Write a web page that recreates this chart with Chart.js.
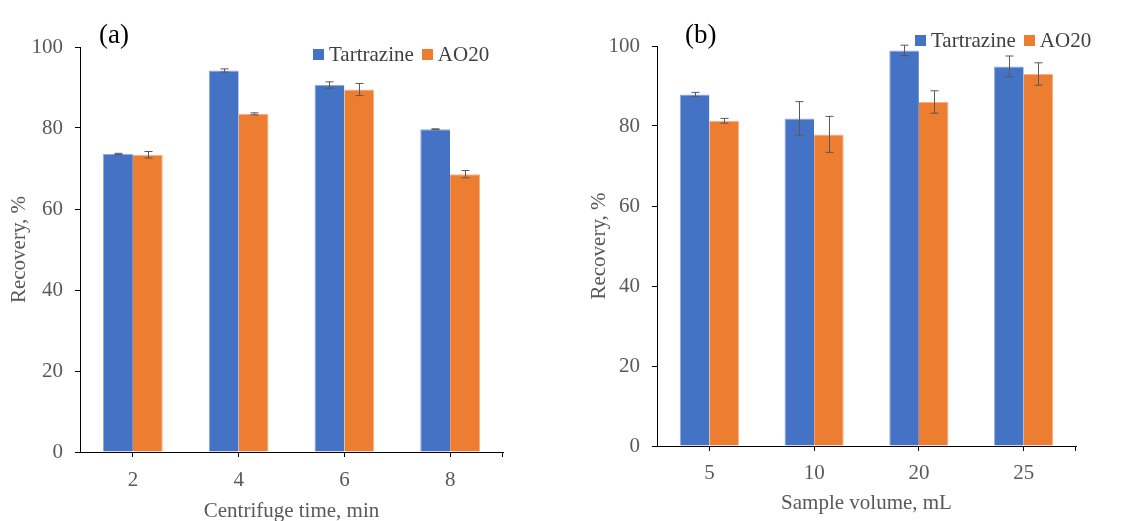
<!DOCTYPE html>
<html>
<head>
<meta charset="utf-8">
<script src="https://cdn.jsdelivr.net/npm/chart.js@4"></script>
<style>
  html, body { margin: 0; padding: 0; background: #fff; }
  #wrap { position: relative; width: 1131px; height: 521px; overflow: hidden; font-family: 'Liberation Serif', 'Times New Roman', serif; }
  .panel { position: absolute; top: 0; height: 521px; }
  .panel canvas { position: absolute; left: 0; top: 0; }
  .tag { position: absolute; font-size: 27px; color: #000; line-height: 1; }
  .legend { position: absolute; display: flex; align-items: center; font-size: 21px; color: #404040; line-height: 1; white-space: nowrap; }
  .legend .sw { display: inline-block; width: 11px; height: 11px; margin-right: 5px; }
  .legend .item { display: flex; align-items: center; margin-right: 8px; }
</style>
</head>
<body>
<div id="wrap">
  <div class="panel" style="left:0;width:565px">
    <canvas id="chartA" width="565" height="521"></canvas>
    <div class="tag" style="left:99px;top:21px">(a)</div>
    <div class="legend" style="left:313px;top:44px">
      <span class="item"><span class="sw" style="background:#4472C4"></span>Tartrazine</span>
      <span class="item"><span class="sw" style="background:#ED7D31"></span>AO20</span>
    </div>
  </div>
  <div class="panel" style="left:565px;width:566px">
    <canvas id="chartB" width="566" height="521"></canvas>
    <div class="tag" style="left:120px;top:21px">(b)</div>
    <div class="legend" style="left:350px;top:30px">
      <span class="item"><span class="sw" style="background:#4472C4"></span>Tartrazine</span>
      <span class="item"><span class="sw" style="background:#ED7D31"></span>AO20</span>
    </div>
  </div>
</div>
<script>
// panel (a): centrifuge time
const timeLabels = ['2', '4', '6', '8'];
const timeTartrazine = [73.6, 94.2, 90.6, 79.7];
const timeTartrazineErr = [0.15, 0.4, 0.8, 0.1];
const timeAO20 = [73.4, 83.5, 89.5, 68.6];
const timeAO20Err = [0.8, 0.25, 1.5, 0.9];

// panel (b): sample volume
const volumeLabels = ['5', '10', '20', '25'];
const volumeTartrazine = [87.9, 81.9, 98.9, 94.9];
const volumeTartrazineErr = [0.5, 4.2, 1.3, 2.6];
const volumeAO20 = [81.3, 77.9, 86.0, 93.0];
const volumeAO20Err = [0.6, 4.5, 2.8, 2.8];

const yTicks = [0, 20, 40, 60, 80, 100];

const BLUE = '#4472C4';
const ORANGE = '#ED7D31';
const TEXT = '#595959';
const FONT = "'Liberation Serif', 'Times New Roman', serif";

// error bars + the closing tick at the right end of the x axis
const errorBars = {
  id: 'errorBars',
  afterDatasetsDraw(chart) {
    const ctx = chart.ctx;
    const y = chart.scales.y;
    ctx.save();
    ctx.strokeStyle = '#595959';
    ctx.lineWidth = 1;
    chart.data.datasets.forEach((ds, i) => {
      const meta = chart.getDatasetMeta(i);
      meta.data.forEach((bar, j) => {
        const e = ds.errors[j];
        const v = ds.data[j];
        const top = y.getPixelForValue(v + e);
        const bot = y.getPixelForValue(v - e);
        const x = Math.round(bar.x) + 0.5;
        ctx.beginPath();
        ctx.moveTo(x, top); ctx.lineTo(x, bot);
        ctx.moveTo(x - 4, top); ctx.lineTo(x + 4, top);
        ctx.moveTo(x - 4, bot); ctx.lineTo(x + 4, bot);
        ctx.stroke();
      });
    });
    const area = chart.chartArea;
    ctx.strokeStyle = '#000';
    ctx.beginPath();
    ctx.moveTo(area.right - 0.5, area.bottom);
    ctx.lineTo(area.right - 0.5, area.bottom + 5);
    ctx.stroke();
    ctx.restore();
  }
};

function makeChart(canvasId, labels, tart, tartErr, ao, aoErr, cfg) {
  const ctx = document.getElementById(canvasId).getContext('2d');
  return new Chart(ctx, {
    type: 'bar',
    data: {
      labels,
      datasets: [
        { label: 'Tartrazine', data: tart, errors: tartErr, backgroundColor: BLUE, borderColor: '#8eaadb', borderWidth: { top: 1, left: 1, right: 0, bottom: 0 }, categoryPercentage: 0.565, barPercentage: 1 },
        { label: 'AO20', data: ao, errors: aoErr, backgroundColor: ORANGE, borderColor: '#f4b183', borderWidth: { top: 1, left: 0, right: 1, bottom: 0 }, categoryPercentage: 0.565, barPercentage: 1 }
      ]
    },
    options: {
      responsive: false,
      animation: false,
      layout: { padding: { left: 0, right: cfg.padRight, top: cfg.padTop, bottom: 0 } },
      plugins: { legend: { display: false }, tooltip: { enabled: false } },
      scales: {
        x: {
          grid: { display: true, drawOnChartArea: false, drawTicks: true, tickLength: 5, color: '#000', offset: false },
          border: { display: true, color: '#000', width: 1 },
          ticks: { color: TEXT, font: { family: FONT, size: 21 }, padding: cfg.xTickPad, maxRotation: 0 },
          title: { display: true, text: cfg.xTitle, color: TEXT, font: { family: FONT, size: 21 }, padding: { top: 0, bottom: cfg.xTitlePad } },
          afterFit: s => { s.height = cfg.xHeight; }
        },
        y: {
          min: 0,
          max: 100,
          afterBuildTicks: s => { s.ticks = yTicks.map(v => ({ value: v })); },
          grid: { display: true, drawOnChartArea: false, drawTicks: true, tickLength: 5, color: '#000' },
          border: { display: true, color: '#000', width: 1 },
          ticks: { color: TEXT, font: { family: FONT, size: 21 }, padding: 12 },
          title: { display: true, text: 'Recovery, %', color: TEXT, font: { family: FONT, size: 21 }, padding: { top: cfg.yTitlePad, bottom: 0 } },
          afterFit: s => { s.width = cfg.yWidth; }
        }
      }
    },
    plugins: [errorBars]
  });
}

makeChart('chartA', timeLabels, timeTartrazine, timeTartrazineErr, timeAO20, timeAO20Err, {
  padRight: 62, padTop: 47, xHeight: 69, yWidth: 80, xTickPad: 11, xTitlePad: -3, yTitlePad: 7,
  xTitle: 'Centrifuge time, min'
});

makeChart('chartB', volumeLabels, volumeTartrazine, volumeTartrazineErr, volumeAO20, volumeAO20Err, {
  padRight: 55, padTop: 46, xHeight: 75, yWidth: 92, xTickPad: 10, xTitlePad: 5, yTitlePad: 22,
  xTitle: 'Sample volume, mL'
});
</script>
</body>
</html>
